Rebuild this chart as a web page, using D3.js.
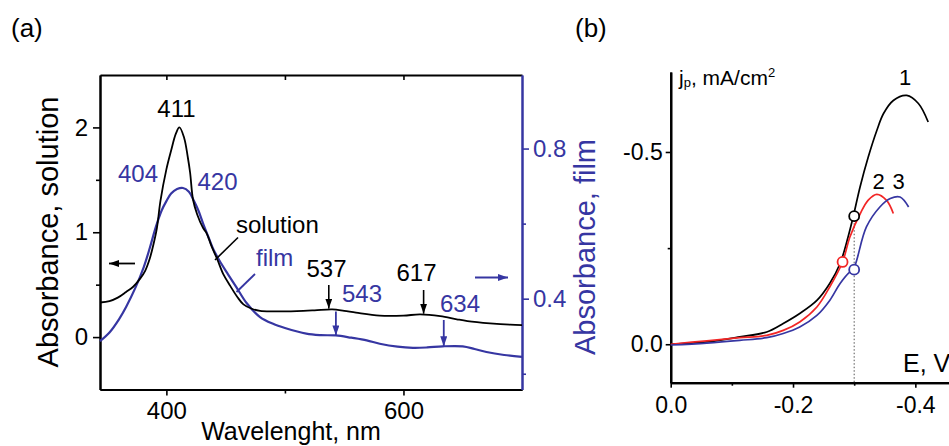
<!DOCTYPE html>
<html>
<head>
<meta charset="utf-8">
<script src="https://cdn.jsdelivr.net/npm/d3@7"></script>
<style>
  body { margin: 0; background: #fff; overflow: hidden; }
  text { font-family: Arial, "Liberation Sans", sans-serif; }
</style>
</head>
<body>
<div id="chart"></div>
<script>
// ---- panel (a): absorbance spectra ----
const wlSolution = [344, 352, 359, 366, 372, 378, 382, 386, 389, 392, 395, 400, 404, 408, 411, 415, 418, 420, 422.5, 426, 431, 434, 438, 443, 448, 454, 460, 465, 472, 479, 490, 510, 525, 540, 550, 560, 580, 600, 614, 631, 645, 654, 673, 690, 700];
const absSolution = [0.33, 0.343, 0.376, 0.43, 0.48, 0.56, 0.63, 0.75, 0.88, 1.04, 1.3, 1.6, 1.78, 1.94, 2.0, 1.9, 1.72, 1.57, 1.31, 1.17, 1.04, 0.99, 0.87, 0.74, 0.6, 0.486, 0.38, 0.312, 0.27, 0.25, 0.245, 0.248, 0.255, 0.264, 0.25, 0.233, 0.205, 0.205, 0.216, 0.2, 0.17, 0.153, 0.131, 0.118, 0.115];

const wlFilm = [344, 352, 360, 366, 374, 381, 386, 391, 396, 400, 404, 409, 414, 419, 423, 427, 431, 436, 440, 446, 452, 459, 468, 479, 490, 500, 518, 530, 543, 556, 569, 580, 595, 608, 620, 633, 650, 660, 670, 685, 700];
const absFilm = [0.287, 0.31, 0.345, 0.378, 0.43, 0.485, 0.535, 0.59, 0.635, 0.66, 0.68, 0.692, 0.695, 0.685, 0.662, 0.635, 0.6, 0.56, 0.529, 0.495, 0.465, 0.431, 0.387, 0.351, 0.333, 0.322, 0.307, 0.303, 0.302, 0.296, 0.289, 0.28, 0.272, 0.269, 0.27, 0.273, 0.273, 0.266, 0.258, 0.25, 0.245];

const wlTicks = [400, 600];
const wlMinor = [500];
const solTicks = [0, 1, 2];
const solMinor = [0.5, 1.5];
const filmTicks = [0.4, 0.8];
const filmMinor = [0.2, 0.6];

// ---- panel (b): polarisation curves ----
const ePot1 = [0, -0.059, -0.113, -0.157, -0.184, -0.211, -0.239, -0.26, -0.277, -0.29, -0.2986, -0.3096, -0.323, -0.337, -0.348, -0.364, -0.386, -0.405, -0.421];
const jCurve1 = [0, -0.006, -0.019, -0.032, -0.054, -0.08, -0.114, -0.158, -0.21, -0.279, -0.333, -0.409, -0.487, -0.556, -0.6, -0.634, -0.647, -0.626, -0.578];
const ePot2 = [0, -0.059, -0.113, -0.157, -0.184, -0.211, -0.239, -0.26, -0.281, -0.293, -0.31, -0.323, -0.337, -0.353, -0.364];
const jCurve2 = [0, -0.009, -0.017, -0.023, -0.036, -0.058, -0.097, -0.149, -0.214, -0.279, -0.34, -0.375, -0.39, -0.374, -0.34];
const ePot3 = [0, -0.059, -0.113, -0.157, -0.184, -0.211, -0.239, -0.26, -0.277, -0.293, -0.2986, -0.304, -0.32, -0.342, -0.359, -0.375, -0.389];
const jCurve3 = [0.002, -0.003, -0.01, -0.017, -0.028, -0.045, -0.075, -0.114, -0.158, -0.188, -0.194, -0.218, -0.305, -0.357, -0.379, -0.383, -0.357];
const markerE = [-0.3, -0.281, -0.3];
const markerJ = [-0.333, -0.214, -0.194];
const curveLabels = ['1', '2', '3'];
const eTicks = [0, -0.2, -0.4];
const eMinor = [-0.1, -0.3];
const jTicks = [0, -0.5];
const jMinor = [-0.25];

const BLUE = '#3636a2';
const RED = '#f22626';

// plain hyphen instead of the unicode minus d3 uses
const fmt1 = d => d3.format('.1f')(d).replace('\u2212', '-');

const width = 949, height = 446;
const svg = d3.select('#chart').append('svg')
    .attr('width', width)
    .attr('height', height)
    .style('display', 'block')
    .style('background', '#fff');

// arrow heads
const defs = svg.append('defs');
[['ahBlack', '#000'], ['ahBlue', BLUE]].forEach(([id, col]) => {
    defs.append('marker')
        .attr('id', id)
        .attr('viewBox', '0 0 10 7')
        .attr('markerWidth', 10)
        .attr('markerHeight', 7)
        .attr('refX', 10)
        .attr('refY', 3.5)
        .attr('orient', 'auto')
        .attr('markerUnits', 'userSpaceOnUse')
        .append('path')
        .attr('d', 'M0,0 L10,3.5 L0,7 Z')
        .attr('fill', col);
});

// ================= panel (a) =================
const x = d3.scaleLinear().domain([344, 700]).range([100, 522]);
const ySol = d3.scaleLinear().domain([-0.5, 2.5]).range([389.5, 75]);
const yFilm = d3.scaleLinear().domain([0.158, 0.996]).range([389.5, 75]);

const pa = svg.append('g');

function styleAxis(g, col) {
    g.select('.domain').attr('stroke', col).attr('stroke-width', 2);
    g.selectAll('.tick line').attr('stroke', col).attr('stroke-width', 1.6);
    g.selectAll('.tick text').attr('fill', col).style('font-size', '24px')
        .style('font-family', 'Arial, "Liberation Sans", sans-serif');
}

// bottom
pa.append('g').attr('transform', 'translate(0,389.5)')
    .call(d3.axisBottom(x).tickValues(wlTicks).tickSize(6).tickPadding(6).tickSizeOuter(0).tickFormat(d3.format('d')))
    .call(g => styleAxis(g, '#000'));
pa.append('g').attr('transform', 'translate(0,389.5)')
    .call(d3.axisBottom(x).tickValues(wlMinor).tickSize(4).tickFormat('').tickSizeOuter(0))
    .call(g => styleAxis(g, '#000'));
// top (inward ticks)
pa.append('g').attr('transform', 'translate(0,75)')
    .call(d3.axisBottom(x).tickValues(wlTicks.concat(wlMinor)).tickSize(5).tickFormat('').tickSizeOuter(0))
    .call(g => styleAxis(g, '#000'));
// left
pa.append('g').attr('transform', 'translate(100,0)')
    .call(d3.axisLeft(ySol).tickValues(solTicks).tickSize(7).tickPadding(5).tickSizeOuter(0).tickFormat(d3.format('d')))
    .call(g => styleAxis(g, '#000'));
pa.append('g').attr('transform', 'translate(100,0)')
    .call(d3.axisLeft(ySol).tickValues(solMinor).tickSize(4).tickFormat('').tickSizeOuter(0))
    .call(g => styleAxis(g, '#000'));
// right (film)
pa.append('g').attr('transform', 'translate(522,0)')
    .call(d3.axisRight(yFilm).tickValues(filmTicks).tickSize(7).tickPadding(4).tickSizeOuter(0).tickFormat(fmt1))
    .call(g => styleAxis(g, BLUE));
pa.append('g').attr('transform', 'translate(522,0)')
    .call(d3.axisRight(yFilm).tickValues(filmMinor).tickSize(4).tickFormat('').tickSizeOuter(0))
    .call(g => styleAxis(g, BLUE));

// curves
const solLine = d3.line().x(d => x(d[0])).y(d => ySol(d[1])).curve(d3.curveCatmullRom.alpha(0.5));
const filmLine = d3.line().x(d => x(d[0])).y(d => yFilm(d[1])).curve(d3.curveCatmullRom.alpha(0.5));

pa.append('path')
    .datum(d3.zip(wlFilm, absFilm))
    .attr('d', filmLine)
    .attr('fill', 'none')
    .attr('stroke', BLUE)
    .attr('stroke-width', 2.2);
pa.append('path')
    .datum(d3.zip(wlSolution, absSolution))
    .attr('d', solLine)
    .attr('fill', 'none')
    .attr('stroke', '#000')
    .attr('stroke-width', 1.8);

// labels
function label(g, txt, px, py, col, size, anchor) {
    return g.append('text')
        .attr('x', px).attr('y', py)
        .attr('fill', col)
        .attr('text-anchor', anchor || 'middle')
        .style('font-size', (size || 24) + 'px')
        .text(txt);
}
label(pa, '(a)', 11, 37, '#000', 26, 'start');
label(pa, '411', 176.5, 116.5, '#000');
label(pa, '404', 138, 181.5, BLUE);
label(pa, '420', 217.5, 189.5, BLUE);
label(pa, 'solution', 236, 233, '#000', 24, 'start');
label(pa, 'film', 256, 266, BLUE, 24, 'start');
label(pa, '537', 326.5, 277, '#000');
label(pa, '543', 342, 302, BLUE, 24, 'start');
label(pa, '617', 416.5, 281, '#000');
label(pa, '634', 460, 312, BLUE);

// leader lines
pa.append('line').attr('x1', 238).attr('y1', 237.5).attr('x2', 215).attr('y2', 260)
    .attr('stroke', '#000').attr('stroke-width', 1.6);
pa.append('line').attr('x1', 255).attr('y1', 274).attr('x2', 236.5).attr('y2', 292)
    .attr('stroke', BLUE).attr('stroke-width', 1.8);

// peak arrows
const solArrows = [[537, 285], [617, 290]];
solArrows.forEach(([w, top]) => {
    const i = d3.bisectLeft(wlSolution, w);
    const v = d3.interpolateNumber(absSolution[i - 1], absSolution[i])((w - wlSolution[i - 1]) / (wlSolution[i] - wlSolution[i - 1]));
    pa.append('line').attr('x1', x(w)).attr('x2', x(w)).attr('y1', top).attr('y2', ySol(v) - 1)
        .attr('stroke', '#000').attr('stroke-width', 1.6).attr('marker-end', 'url(#ahBlack)');
});
const filmArrows = [[543, 311.5], [634, 320]];
filmArrows.forEach(([w, top]) => {
    const i = d3.bisectLeft(wlFilm, w);
    const v = d3.interpolateNumber(absFilm[i - 1], absFilm[i])((w - wlFilm[i - 1]) / (wlFilm[i] - wlFilm[i - 1]));
    pa.append('line').attr('x1', x(w)).attr('x2', x(w)).attr('y1', top).attr('y2', yFilm(v))
        .attr('stroke', BLUE).attr('stroke-width', 1.8).attr('marker-end', 'url(#ahBlue)');
});

// axis side arrows
pa.append('line').attr('x1', 135).attr('y1', 263.5).attr('x2', 109).attr('y2', 263.5)
    .attr('stroke', '#000').attr('stroke-width', 1.8).attr('marker-end', 'url(#ahBlack)');
pa.append('line').attr('x1', 475).attr('y1', 277.5).attr('x2', 508).attr('y2', 277.5)
    .attr('stroke', BLUE).attr('stroke-width', 1.8).attr('marker-end', 'url(#ahBlue)');

// axis titles
pa.append('text')
    .attr('transform', 'translate(58,232) rotate(-90)')
    .attr('text-anchor', 'middle')
    .style('font-size', '29px')
    .attr('fill', '#000')
    .text('Absorbance, solution');
pa.append('text')
    .attr('transform', 'translate(595,247) rotate(-90)')
    .attr('text-anchor', 'middle')
    .style('font-size', '29px')
    .attr('fill', BLUE)
    .text('Absorbance, film');
label(pa, 'Wavelenght, nm', 291, 440, '#000', 25);

// ================= panel (b) =================
const xE = d3.scaleLinear().domain([0, -0.5]).range([670.7, 976.5]);
const yJ = d3.scaleLinear().domain([0.1, -0.708]).range([382.7, 72]);

const pb = svg.append('g');

function styleB(g) {
    g.select('.domain').attr('stroke', '#000').attr('stroke-width', 2.2);
    g.selectAll('.tick line').attr('stroke', '#000').attr('stroke-width', 1.6);
    g.selectAll('.tick text').attr('fill', '#000').style('font-size', '23px')
        .style('font-family', 'Arial, "Liberation Sans", sans-serif');
}

pb.append('g').attr('transform', 'translate(0,382.7)')
    .call(d3.axisBottom(xE).tickValues(eTicks).tickSize(5).tickPadding(9).tickSizeOuter(0).tickFormat(fmt1))
    .call(styleB);
pb.append('g').attr('transform', 'translate(0,382.7)')
    .call(d3.axisBottom(xE).tickValues(eMinor).tickSize(3).tickFormat('').tickSizeOuter(0))
    .call(styleB);
pb.append('g').attr('transform', 'translate(670.7,0)')
    .call(d3.axisLeft(yJ).tickValues(jTicks).tickSize(5).tickPadding(3).tickSizeOuter(0).tickFormat(fmt1))
    .call(styleB);
pb.append('g').attr('transform', 'translate(670.7,0)')
    .call(d3.axisLeft(yJ).tickValues(jMinor).tickSize(3).tickFormat('').tickSizeOuter(0))
    .call(styleB);

// dotted guide at E = -0.3
pb.append('line')
    .attr('x1', xE(-0.3)).attr('x2', xE(-0.3))
    .attr('y1', yJ(markerJ[0])).attr('y2', yJ(0.1))
    .attr('stroke', '#555').attr('stroke-width', 1).attr('stroke-dasharray', '1.5,2');

const jLine = d3.line().x(d => xE(d[0])).y(d => yJ(d[1])).curve(d3.curveCatmullRom.alpha(0.5));
const curves = [
    { e: ePot1, j: jCurve1, col: '#000' },
    { e: ePot2, j: jCurve2, col: RED },
    { e: ePot3, j: jCurve3, col: BLUE }
];
pb.selectAll('path.curve')
    .data(curves)
    .enter()
    .append('path')
    .attr('class', 'curve')
    .attr('d', d => jLine(d3.zip(d.e, d.j)))
    .attr('fill', 'none')
    .attr('stroke', d => d.col)
    .attr('stroke-width', 1.7);

pb.selectAll('circle.mk')
    .data(curves.map((c, i) => ({ e: markerE[i], j: markerJ[i], col: c.col })))
    .enter()
    .append('circle')
    .attr('class', 'mk')
    .attr('cx', d => xE(d.e))
    .attr('cy', d => yJ(d.j))
    .attr('r', 5)
    .attr('fill', '#fff')
    .attr('stroke', d => d.col)
    .attr('stroke-width', 1.8);

// curve numbers
const labelPos = [[905, 85], [878.5, 188.5], [898.5, 188.5]];
labelPos.forEach((p, i) => label(pb, curveLabels[i], p[0], p[1], '#000', 22));

label(pb, '(b)', 575, 37, '#000', 26, 'start');

const jt = pb.append('text').attr('x', 679).attr('y', 85).attr('fill', '#000').style('font-size', '21px');
jt.append('tspan').text('j');
jt.append('tspan').attr('dy', 2).style('font-size', '13px').text('p');
jt.append('tspan').attr('dy', -2).text(', mA/cm');
jt.append('tspan').attr('dy', -8).style('font-size', '13px').text('2');

label(pb, 'E, V', 903, 372, '#000', 25, 'start');
</script>
</body>
</html>
